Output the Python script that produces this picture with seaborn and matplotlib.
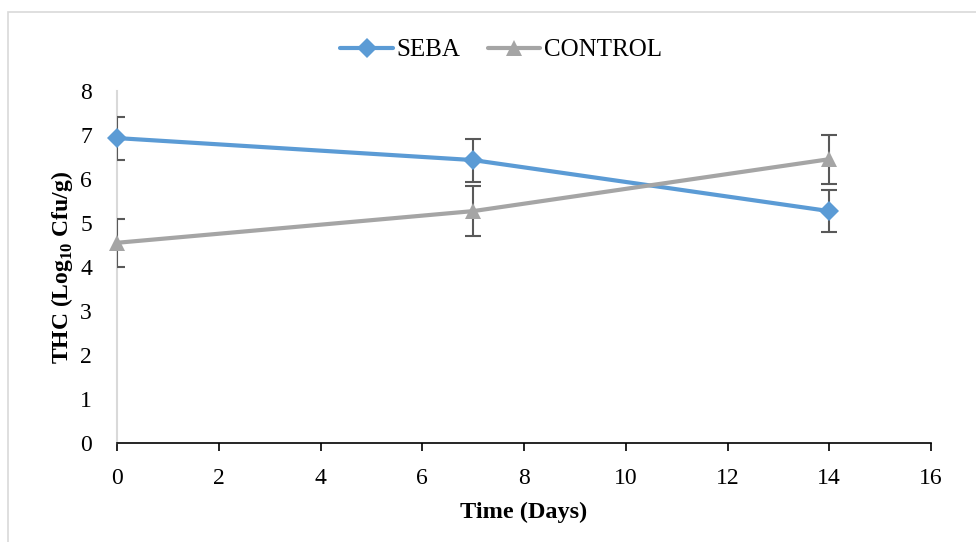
import numpy as np
import pandas as pd
import seaborn as sns
import matplotlib.pyplot as plt
from matplotlib.patches import Rectangle

days = [0, 7, 14]
seba = [6.93, 6.43, 5.27]
seba_err = [0.49, 0.49, 0.48]
control = [4.55, 5.27, 6.45]
control_err = [0.55, 0.57, 0.56]

sns.set_style("white")
plt.rcParams['font.family'] = ['Liberation Serif', 'DejaVu Serif']
plt.rcParams['mathtext.fontset'] = 'custom'
plt.rcParams['mathtext.rm'] = 'Liberation Serif'
plt.rcParams['mathtext.bf'] = 'Liberation Serif:bold'
plt.rcParams['text.color'] = 'black'
plt.rcParams['axes.labelcolor'] = 'black'
plt.rcParams['xtick.color'] = 'black'
plt.rcParams['ytick.color'] = 'black'

df = pd.DataFrame({"day": days * 2,
                   "thc": seba + control,
                   "err": seba_err + control_err,
                   "group": ["SEBA"] * 3 + ["CONTROL"] * 3})

fig = plt.figure(figsize=(9.76, 5.42), dpi=100)
fig.patches.append(Rectangle((0.0082, -0.01), 1.0, 0.988, transform=fig.transFigure,
                             fill=False, edgecolor="#d9d9d9", linewidth=1.2))
ax = fig.add_axes([0.1199, 0.1827, 0.8340, 0.6494])

colors = {"SEBA": "#5b9bd5", "CONTROL": "#a5a5a5"}
markers = {"SEBA": "D", "CONTROL": "^"}
msizes = {"SEBA": 10, "CONTROL": 12}
for g in ["SEBA", "CONTROL"]:
    sub = df[df["group"] == g]
    ax.errorbar(sub["day"], sub["thc"], yerr=sub["err"], fmt="none",
                ecolor="#595959", elinewidth=1.5, capsize=6, capthick=1.5, zorder=2.6)
    sns.lineplot(data=sub, x="day", y="thc", ax=ax, color=colors[g], marker=markers[g],
                 markersize=msizes[g], markeredgewidth=0, linewidth=3, label=g, zorder=3)

# markers at day 0 sit on the axis, keep them whole
for ln in ax.lines:
    if ln.get_marker() in ("D", "^"):
        ln.set_clip_on(False)

ax.set_xlim(0, 16)
ax.set_ylim(0, 8)
ax.set_xticks(range(0, 17, 2))
ax.set_yticks(range(0, 9))
ax.tick_params(axis="x", direction="out", length=6, width=1.2, color="black",
               labelsize=17, pad=12, bottom=True)
ax.tick_params(axis="y", length=0, labelsize=17, pad=18)
for s in ["top", "right"]:
    ax.spines[s].set_visible(False)
ax.spines["bottom"].set_color("black")
ax.spines["bottom"].set_linewidth(1.2)
ax.spines["left"].set_color("#d9d9d9")
ax.spines["left"].set_linewidth(1.5)

ax.set_xlabel("Time (Days)", fontsize=17.5, fontweight="bold", labelpad=9)
ax.set_ylabel(r"THC (Log$_{\mathbf{10}}$ Cfu/g)", fontsize=17, fontweight="bold", labelpad=4)

ax.legend(loc="lower center", bbox_to_anchor=(0.472, 1.02), ncol=2, frameon=False,
          fontsize=18, handlelength=2.1, columnspacing=1.1, handletextpad=0.15)

fig.savefig("out.png", dpi=100)
